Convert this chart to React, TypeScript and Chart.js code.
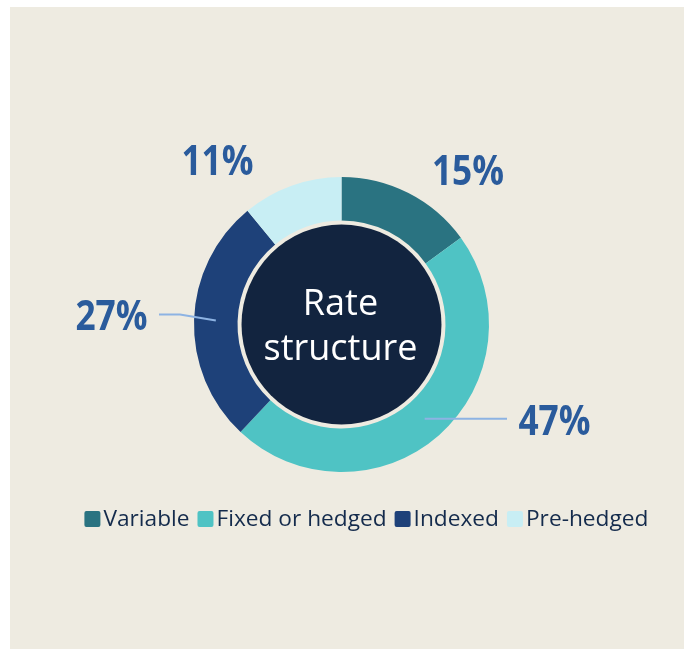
import React, { useEffect, useRef } from "react";
import { Chart, registerables } from "chart.js";

Chart.register(...registerables);

// ---- data ----
const categories = ["Variable", "Fixed or hedged", "Indexed", "Pre-hedged"];
const shares = [15, 47, 27, 11];
const centerLines = ["Rate", "structure"];

// ---- styles / layout ----
const sliceColors = ["#2a7381", "#4fc3c4", "#1e4179", "#c8eef4"];
const BG = "#eeebe1";
const CENTER_FILL = "#12243f";
const LABEL_COLOR = "#2a5b9c";
const LEADER_COLOR = "#8db3e3";
const LEGEND_TEXT = "#142b4c";
// label baseline-centre offsets relative to the doughnut centre
const labelOffsets: [number, number][] = [
  [126.5, -139.5],
  [213, 110.5],
  [-230, 5.5],
  [-124, -149.5],
];
// leader line points (after the arc centroid), relative to doughnut centre
const leaderPaths: ([number, number][] | null)[] = [
  null,
  [[165.5, 94.3]],
  [[-161.5, -10], [-182.5, -10]],
  null,
];

const decorPlugin = {
  id: "decor",
  afterDatasetsDraw(chart: any) {
    const ctx: CanvasRenderingContext2D = chart.ctx;
    const meta = chart.getDatasetMeta(0);
    const arcs = meta.data;
    if (!arcs.length) return;
    const cx = arcs[0].x;
    const cy = arcs[0].y;
    const inner = arcs[0].innerRadius;

    // dark centre disc
    ctx.save();
    ctx.beginPath();
    ctx.arc(cx, cy, inner - 4, 0, Math.PI * 2);
    ctx.fillStyle = CENTER_FILL;
    ctx.fill();

    // centre text
    ctx.fillStyle = "#ffffff";
    ctx.font = '36px "Open Sans"';
    ctx.textAlign = "center";
    ctx.textBaseline = "alphabetic";
    ctx.fillText(centerLines[0], cx - 1, cy - 9.5);
    ctx.fillText(centerLines[1], cx - 1, cy + 35.5);
    ctx.restore();

    // leader lines
    arcs.forEach((arc: any, i: number) => {
      const path = leaderPaths[i];
      if (!path) return;
      const p = arc.tooltipPosition();
      ctx.save();
      ctx.strokeStyle = LEADER_COLOR;
      ctx.lineWidth = 2;
      ctx.beginPath();
      ctx.moveTo(p.x, p.y);
      path.forEach(([dx, dy]) => ctx.lineTo(cx + dx, cy + dy));
      ctx.stroke();
      ctx.restore();
    });

    // value labels
    const values = chart.data.datasets[0].data as number[];
    values.forEach((v, i) => {
      const [dx, dy] = labelOffsets[i];
      ctx.save();
      ctx.translate(cx + dx, cy + dy);
      ctx.scale(0.86, 1);
      ctx.fillStyle = LABEL_COLOR;
      ctx.font = 'bold 41px "Open Sans"';
      ctx.textAlign = "center";
      ctx.textBaseline = "alphabetic";
      ctx.fillText(`${v}%`, 0, 0);
      ctx.restore();
    });

    // legend
    const labels = chart.data.labels as string[];
    const colors = chart.data.datasets[0].backgroundColor as string[];
    ctx.save();
    ctx.font = '22.7px "Open Sans"';
    const box = 16;
    const gapText = 3;
    const gapItem = 8;
    const widths = labels.map((l) => ctx.measureText(l).width);
    const total =
      widths.reduce((a, w) => a + box + gapText + w, 0) + gapItem * (labels.length - 1);
    let x = 356.4 - total / 2;
    const boxTop = 504;
    const baseline = 519;
    labels.forEach((l, i) => {
      ctx.fillStyle = colors[i];
      ctx.beginPath();
      (ctx as any).roundRect(x, boxTop, box, box, 2);
      ctx.fill();
      x += box + gapText;
      ctx.fillStyle = LEGEND_TEXT;
      ctx.textAlign = "left";
      ctx.textBaseline = "alphabetic";
      ctx.fillText(l, x, baseline);
      x += widths[i] + gapItem;
    });
    ctx.restore();
  },
};

export default function App() {
  const canvasRef = useRef<HTMLCanvasElement | null>(null);

  useEffect(() => {
    document.body.style.margin = "0";
    const canvas = canvasRef.current;
    if (!canvas) return;
    const chart = new Chart(canvas, {
      type: "doughnut",
      data: {
        labels: categories,
        datasets: [
          {
            data: shares,
            backgroundColor: sliceColors,
            borderWidth: 0,
            hoverOffset: 0,
            offset: 0,
          },
        ],
      },
      options: {
        animation: false,
        responsive: true,
        maintainAspectRatio: false,
        events: [],
        cutout: "70.5%",
        rotation: 0,
        layout: { padding: { left: 184, right: 195, top: 170, bottom: 177 } },
        plugins: {
          legend: { display: false },
          tooltip: { enabled: false },
        },
      },
      plugins: [decorPlugin],
    });
    return () => chart.destroy();
  }, []);

  return (
    <div style={{ position: "relative", width: 684, height: 649, background: "#ffffff" }}>
      <div
        style={{
          position: "absolute",
          left: 10,
          top: 7,
          width: 674,
          height: 642,
          background: BG,
        }}
      >
        <canvas ref={canvasRef} style={{ width: "100%", height: "100%" }} />
      </div>
    </div>
  );
}
